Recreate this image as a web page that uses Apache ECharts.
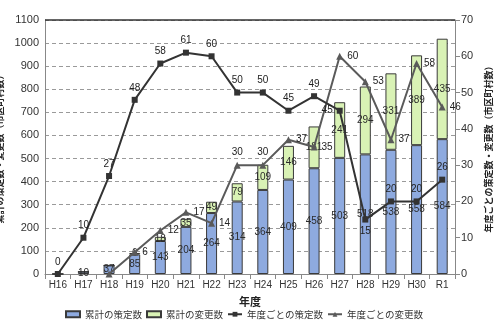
<!DOCTYPE html>
<html>
<head>
<meta charset="utf-8">
<script src="https://cdn.jsdelivr.net/npm/echarts@6/dist/echarts.min.js"></script>
<style>
  html, body { margin: 0; padding: 0; background: #fff; }
  #chart { width: 495px; height: 334px; }
</style>
</head>
<body>
<div id="chart"></div>
<script>
// 年度
const categories = ['H16','H17','H18','H19','H20','H21','H22','H23','H24','H25','H26','H27','H28','H29','H30','R1'];
// 累計の策定数
const cumPlanned = [0, 10, 37, 85, 143, 204, 264, 314, 364, 409, 458, 503, 518, 538, 558, 584];
// 累計の変更数
const cumChanged = [0, 0, 0, 6, 18, 35, 49, 79, 109, 146, 181, 241, 294, 331, 389, 435];
// 年度ごとの策定数
const yearPlanned = [0, 10, 27, 48, 58, 61, 60, 50, 50, 45, 49, 45, 15, 20, 20, 26];
// 年度ごとの変更数
const yearChanged = [null, null, 0, 6, 12, 17, 14, 30, 30, 37, 35, 60, 53, 37, 58, 46];

const leftTicks = { min: 0, max: 1100, interval: 100 };
const rightTicks = { min: 0, max: 70, interval: 10 };

const numFont = 'Liberation Sans, Arial, sans-serif';
const jpFont = '"Noto Sans CJK JP", sans-serif';

const chart = echarts.init(document.getElementById('chart'), null, { renderer: 'canvas' });

const barLabel = {
  show: true,
  position: 'inside',
  fontSize: 10,
  fontFamily: numFont,
  color: '#2b2b2b',
  formatter: p => (p.value > 0 ? p.value : '')
};

const plannedLabelPos = yearPlanned.map((v, i) => {
  if (categories[i] === 'H28') return 'bottom';
  if (categories[i] === 'H27') return 'left';
  return 'top';
});

chart.setOption({
  animation: false,
  grid: { left: 45, right: 40, top: 20, bottom: 60, outerBoundsMode: 'none', containLabel: false },
  legend: {
    bottom: 10,
    left: 60,
    itemWidth: 14,
    itemHeight: 6,
    itemGap: 4,
    textStyle: { fontFamily: jpFont, fontSize: 9.5, color: '#333' },
    data: [
      { name: '累計の策定数', icon: 'rect' },
      { name: '累計の変更数', icon: 'rect' },
      { name: '年度ごとの策定数' },
      { name: '年度ごとの変更数' }
    ]
  },
  xAxis: {
    type: 'category',
    data: categories,
    name: '年度',
    nameLocation: 'middle',
    nameGap: 22,
    nameTextStyle: { fontFamily: jpFont, fontSize: 11, fontWeight: 'bold', color: '#222' },
    axisLine: { lineStyle: { color: '#888' } },
    axisTick: { show: true, alignWithLabel: false, lineStyle: { color: '#888' } },
    axisLabel: { fontFamily: numFont, fontSize: 10, color: '#333', margin: 6 }
  },
  yAxis: [
    {
      type: 'value',
      min: leftTicks.min, max: leftTicks.max, interval: leftTicks.interval,
      name: '累計の策定数・変更数（市区町村数）',
      nameLocation: 'middle',
      nameRotate: 90,
      nameGap: 38,
      nameTextStyle: { fontFamily: jpFont, fontSize: 9, fontWeight: 'bold', color: '#222' },
      axisLine: { show: true, lineStyle: { color: '#888' } },
      axisTick: { show: false },
      axisLabel: { fontFamily: numFont, fontSize: 11, color: '#333', margin: 6, formatter: v => String(v) },
      splitLine: { lineStyle: { color: '#9a9a9a', type: [4, 3] } }
    },
    {
      type: 'value',
      min: rightTicks.min, max: rightTicks.max, interval: rightTicks.interval,
      name: '年度ごとの策定数・変更数（市区町村数）',
      nameLocation: 'middle',
      nameRotate: 90,
      nameGap: 27,
      nameTextStyle: { fontFamily: jpFont, fontSize: 9, fontWeight: 'bold', color: '#222' },
      axisLine: { show: true, lineStyle: { color: '#888' } },
      axisTick: { show: true, lineStyle: { color: '#888' } },
      axisLabel: { fontFamily: numFont, fontSize: 11, color: '#333', margin: 6, formatter: v => String(v) },
      splitLine: { show: false }
    }
  ],
  series: [
    {
      name: '累計の策定数',
      type: 'bar',
      stack: 'cum',
      barWidth: 11,
      data: cumPlanned,
      itemStyle: { color: '#8eaadf', borderColor: '#3a3a3a', borderWidth: 1 },
      label: barLabel,
      z: 2
    },
    {
      name: '累計の変更数',
      type: 'bar',
      stack: 'cum',
      barWidth: 11,
      data: cumChanged,
      itemStyle: { color: '#d9f2b5', borderColor: '#3a3a3a', borderWidth: 1 },
      label: barLabel,
      z: 2
    },
    {
      name: '年度ごとの策定数',
      type: 'line',
      yAxisIndex: 1,
      data: yearPlanned.map((v, i) => ({
        value: v,
        label: { position: plannedLabelPos[i] }
      })),
      symbol: 'rect',
      symbolSize: 6,
      lineStyle: { color: '#333', width: 2 },
      itemStyle: { color: '#333' },
      label: { show: true, fontSize: 10, fontFamily: numFont, color: '#222', distance: 4 },
      z: 4
    },
    {
      name: '年度ごとの変更数',
      type: 'line',
      yAxisIndex: 1,
      data: yearChanged.map((v, i) => ({
        value: v,
        label: { position: (categories[i] === 'H23' || categories[i] === 'H24') ? 'top' : 'right' }
      })),
      symbol: 'triangle',
      symbolSize: 7,
      connectNulls: false,
      lineStyle: { color: '#5a5a5a', width: 2 },
      itemStyle: { color: '#5a5a5a' },
      label: {
        show: true, fontSize: 10, fontFamily: numFont, color: '#222', distance: 4,
        formatter: p => (p.value > 0 ? p.value : '')
      },
      z: 3
    }
  ],
  graphic: [
    {
      type: 'line',
      shape: { x1: 45, y1: 20, x2: 455, y2: 20 },
      style: { stroke: '#333', lineWidth: 1.5 },
      z: 10
    }
  ]
});
</script>
</body>
</html>
